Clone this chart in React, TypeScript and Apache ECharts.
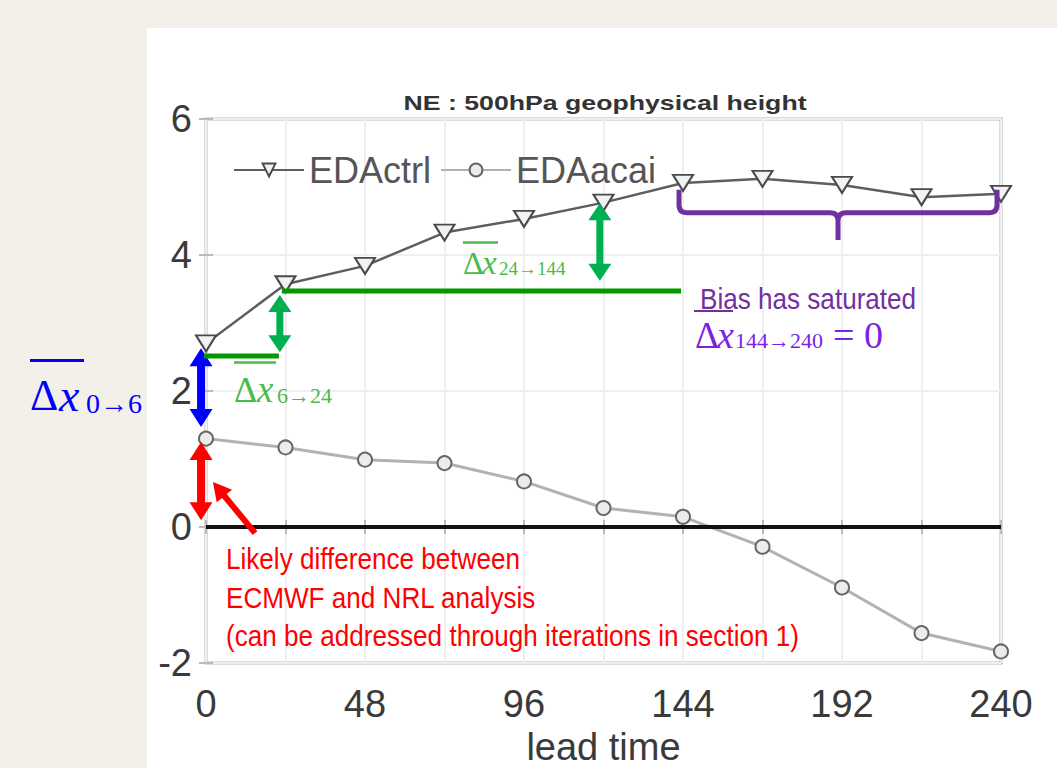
import React, { useEffect, useRef } from "react";
import * as echarts from "echarts";

const hours = [0, 24, 48, 72, 96, 120, 144, 168, 192, 216, 240];
const edaCtrl = [2.7, 3.57, 3.84, 4.33, 4.53, 4.77, 5.06, 5.12, 5.03, 4.85, 4.9];
const edaAcai = [1.3, 1.17, 0.99, 0.94, 0.67, 0.28, 0.15, -0.29, -0.89, -1.56, -1.83];
const xLabelHours = [0, 48, 96, 144, 192, 240];
const yTicks = [-2, 0, 2, 4, 6];
const seriesNames = ["EDActrl", "EDAacai"];
const titleText = "NE : 500hPa geophysical height";
const xName = "lead time";
const redLines = [
  "Likely difference between",
  "ECMWF and NRL analysis",
  "(can be addressed through iterations in section 1)",
];

type P = [number, number];

function arrowPoly(p1: P, p2: P, shaftW: number, headW: number, headL: number, both: boolean): P[] {
  const dx = p2[0] - p1[0];
  const dy = p2[1] - p1[1];
  const L = Math.hypot(dx, dy) || 1;
  const ux = dx / L, uy = dy / L;
  const nx = -uy, ny = ux;
  const at = (base: P, a: number, b: number): P => [base[0] + ux * a + nx * b, base[1] + uy * a + ny * b];
  const pts: P[] = [];
  if (both) {
    pts.push(p1);
    pts.push(at(p1, headL, headW / 2));
    pts.push(at(p1, headL, shaftW / 2));
  } else {
    pts.push(at(p1, 0, shaftW / 2));
  }
  pts.push(at(p2, -headL, shaftW / 2));
  pts.push(at(p2, -headL, headW / 2));
  pts.push(p2);
  pts.push(at(p2, -headL, -headW / 2));
  pts.push(at(p2, -headL, -shaftW / 2));
  if (both) {
    pts.push(at(p1, headL, -shaftW / 2));
    pts.push(at(p1, headL, -headW / 2));
  } else {
    pts.push(at(p1, 0, -shaftW / 2));
  }
  return pts;
}

export default function App() {
  const ref = useRef<HTMLDivElement>(null);

  useEffect(() => {
    if (!ref.current) return;
    const chart = echarts.init(ref.current, undefined, { renderer: "svg" });
    const sans = "Liberation Sans";
    const serif = "Liberation Serif";

    const option: any = {
      animation: false,
      backgroundColor: "transparent",
      grid: {
        left: 206,
        right: 56,
        top: 119,
        bottom: 105,
        outerBoundsMode: "none",
        containLabel: false,
        show: true,
        borderColor: "#b9b9b9",
        borderWidth: 3,
        backgroundColor: "transparent",
      },
      legend: {
        left: 233,
        top: 152,
        padding: 0,
        itemGap: 9,
        itemWidth: 70,
        itemHeight: 16,
        data: seriesNames,
        textStyle: { fontFamily: sans, fontSize: 36, color: "#555" },
      },
      xAxis: [
        {
          type: "value",
          min: 0,
          max: 240,
          interval: 24,
          name: xName,
          nameLocation: "middle",
          nameGap: 62,
          nameTextStyle: { fontFamily: sans, fontSize: 38, lineHeight: 38, color: "#3a3a3a" },
          axisLine: { show: false },
          axisTick: { show: true, inside: true, length: 7, lineStyle: { color: "#bbb", width: 2 } },
          axisLabel: {
            fontFamily: sans,
            fontSize: 38,
            color: "#3a3a3a",
            margin: 22,
            formatter: (v: number) => (xLabelHours.includes(v) ? String(v) : ""),
          },
          splitLine: { show: true, lineStyle: { color: "#efefef", width: 2 } },
        },
        {
          type: "value",
          position: "top",
          min: 0,
          max: 240,
          interval: 24,
          axisLine: { show: false },
          axisTick: { show: true, inside: true, length: 7, lineStyle: { color: "#bbb", width: 2 } },
          axisLabel: { show: false },
          splitLine: { show: false },
        },
      ],
      yAxis: [
        {
          type: "value",
          min: -2,
          max: 6,
          interval: 2,
          axisLine: { show: false },
          axisTick: { show: true, inside: true, length: 7, lineStyle: { color: "#bbb", width: 2 } },
          axisLabel: {
            fontFamily: sans,
            fontSize: 38,
            color: "#3a3a3a",
            margin: 14,
            formatter: (v: number) => (yTicks.includes(v) ? String(v) : ""),
          },
          splitLine: { show: true, lineStyle: { color: "#efefef", width: 2 } },
        },
        {
          type: "value",
          position: "right",
          min: -2,
          max: 6,
          interval: 2,
          axisLine: { show: false },
          axisTick: { show: true, inside: true, length: 7, lineStyle: { color: "#bbb", width: 2 } },
          axisLabel: { show: false },
          splitLine: { show: false },
        },
      ],
      series: [
        {
          name: seriesNames[1],
          type: "line",
          data: hours.map((h, i) => [h, edaAcai[i]]),
          symbol: "circle",
          symbolSize: 14,
          itemStyle: { color: "#ececec", borderColor: "#666", borderWidth: 2 },
          lineStyle: { color: "#b2b2b2", width: 3 },
          z: 3,
        },
        {
          name: seriesNames[0],
          type: "line",
          data: hours.map((h, i) => [h, edaCtrl[i]]),
          symbol: "triangle",
          symbolRotate: 180,
          symbolSize: [20, 16],
          itemStyle: { color: "#f2f2f2", borderColor: "#4a4a4a", borderWidth: 2 },
          lineStyle: { color: "#5e5e5e", width: 2.5 },
          z: 3,
          markLine: {
            silent: true,
            symbol: "none",
            label: { show: false },
            lineStyle: { color: "#111", width: 4, type: "solid" },
            data: [{ yAxis: 0 }],
          },
        },
      ],
    };
    chart.setOption(option);

    const px = (x: number, y: number): P => chart.convertToPixel({ gridIndex: 0 }, [x, y]) as P;

    const blue = "#0000ff";
    const red = "#ff0000";
    const darkGreen = "#009900";
    const arrowGreen = "#00b050";
    const lightGreen = "#4cb94c";
    const purple = "#7030a0";
    const violet = "#7a22e6";

    const poly = (pts: P[], color: string) => ({
      type: "polygon",
      z: 100,
      shape: { points: pts },
      style: { fill: color },
    });
    const hline = (x1: number, x2: number, y: number, color: string, w: number) => {
      const a = px(x1, y);
      const b = px(x2, y);
      return {
        type: "line",
        z: 100,
        shape: { x1: a[0], y1: a[1], x2: b[0], y2: b[1] },
        style: { stroke: color, lineWidth: w },
      };
    };
    // baseline is the text baseline; converted to a top-anchored position
    const txt = (
      x: number,
      baseline: number,
      text: string,
      color: string,
      size: number,
      family: string,
      opts: any = {}
    ) => ({
      type: "text",
      z: 100,
      x,
      y: baseline - 0.78 * size,
      scaleX: opts.scaleX ?? 1,
      style: {
        text,
        x: 0,
        y: 0,
        fill: color,
        fontSize: size,
        fontFamily: family,
        fontStyle: opts.italic ? "italic" : "normal",
        fontWeight: opts.bold ? "bold" : "normal",
        align: opts.align ?? "left",
        verticalAlign: "top",
        textAlign: opts.align ?? "left",
        textVerticalAlign: "top",
      },
    });
    const bar = (x1: number, x2: number, y: number, h: number, color: string) => ({
      type: "rect",
      z: 100,
      shape: { x: x1, y: y - h / 2, width: x2 - x1, height: h },
      style: { fill: color },
    });

    // curly brace (bias saturated)
    const bl = px(142.8, 4.96);
    const br = px(238.8, 4.96);
    const bm = px(190.8, 4.62);
    const bBottom = px(190.8, 4.22);
    const yH = bm[1];
    const r = 8;
    const d =
      `M${bl[0]} ${bl[1]} L${bl[0]} ${yH - r} Q${bl[0]} ${yH} ${bl[0] + r} ${yH} ` +
      `L${bm[0] - r} ${yH} Q${bm[0]} ${yH} ${bm[0]} ${yH + r} L${bm[0]} ${bBottom[1]} ` +
      `M${bm[0]} ${yH + r} Q${bm[0]} ${yH} ${bm[0] + r} ${yH} ` +
      `L${br[0] - r} ${yH} Q${br[0]} ${yH} ${br[0]} ${yH - r} L${br[0]} ${br[1]}`;
    echarts.graphic.registerShape("brace", echarts.graphic.extendPath(d, {}));

    const graphics: any[] = [
      // title
      txt(605, 108, titleText, "#333", 21, sans, { bold: true, align: "center", scaleX: 1.27 }),
      // blue double arrow at lead time 0
      poly(arrowPoly(px(-1.5, 2.63), px(-1.5, 1.47), 8, 23, 18, true), blue),
      // red double arrow
      poly(arrowPoly(px(-1.5, 1.25), px(-1.5, 0.1), 8, 23, 18, true), red),
      // red pointer arrow
      poly(arrowPoly(px(14.8, -0.09), px(2.1, 0.66), 6, 20, 18, false), red),
      // green lines
      hline(-0.6, 22.0, 2.515, darkGreen, 5),
      hline(22.9, 143.4, 3.47, darkGreen, 5),
      // green double arrows
      poly(arrowPoly(px(22.3, 3.41), px(22.3, 2.57), 7, 23, 17, true), arrowGreen),
      poly(arrowPoly(px(118.9, 4.76), px(118.9, 3.62), 7, 23, 17, true), arrowGreen),
      // brace
      {
        type: "brace",
        z: 100,
        x: 0,
        y: 0,
        style: { stroke: purple, lineWidth: 5, fill: "none" },
      },
      // blue label
      bar(30, 84, 360.5, 3, blue),
      txt(30, 408, "Δ", blue, 44, serif),
      txt(59, 408, "x", blue, 46, serif, { italic: true }),
      txt(86, 411, "0→6", blue, 28, serif),
      // green label 6->24
      bar(234, 276, 362.5, 2.5, lightGreen),
      txt(234, 400, "Δ", lightGreen, 36, serif),
      txt(257, 400, "x", lightGreen, 37, serif, { italic: true }),
      txt(277, 402, "6→24", lightGreen, 22, serif),
      // green label 24->144
      bar(463, 498, 242.5, 2.5, lightGreen),
      txt(463, 272, "Δ", lightGreen, 32, serif),
      txt(482, 272, "x", lightGreen, 33, serif, { italic: true }),
      txt(499, 274, "24→144", lightGreen, 19, serif),
      // purple texts
      txt(700, 307, "Bias has saturated", purple, 30, sans, { scaleX: 0.87 }),
      bar(694, 733, 311, 2, purple),
      txt(695, 346, "Δ", violet, 37, serif),
      txt(717, 346, "x", violet, 38, serif, { italic: true }),
      txt(735, 347, "144→240", violet, 22, serif),
      txt(833, 346, "= 0", violet, 38, serif),
      // red texts
      ...redLines.map((s, i) => txt(226, [567, 606, 644][i], s, red, 30, sans, { scaleX: 0.87 })),
    ];

    chart.setOption({ graphic: graphics });

    return () => chart.dispose();
  }, []);

  return (
    <div style={{ position: "fixed", left: 0, top: 0, width: 1057, height: 768, background: "#f3f0e9", overflow: "hidden" }}>
      <div style={{ position: "absolute", left: 147, top: 28, right: 0, bottom: 0, background: "#ffffff" }} />
      <div ref={ref} style={{ position: "absolute", left: 0, top: 0, width: 1057, height: 768 }} />
    </div>
  );
}
